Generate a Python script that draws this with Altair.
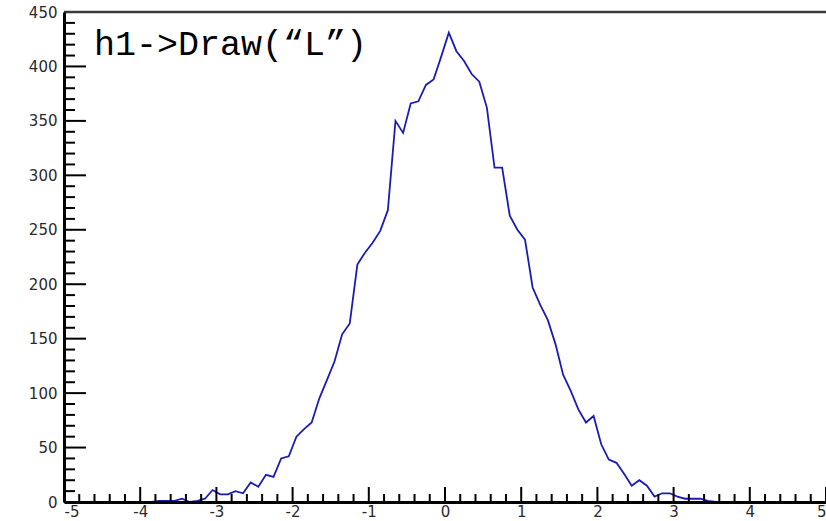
import altair as alt
import pandas as pd

# Histogram bin centres (bin width 0.1) and contents
bin_centers = [-3.85, -3.75, -3.65, -3.55, -3.45, -3.35, -3.25, -3.15, -3.05, -2.95,
               -2.85, -2.75, -2.65, -2.55, -2.45, -2.35, -2.25, -2.15, -2.05, -1.95,
               -1.85, -1.75, -1.65, -1.55, -1.45, -1.35, -1.25, -1.15, -1.05, -0.95,
               -0.85, -0.75, -0.65, -0.55, -0.45, -0.35, -0.25, -0.15, -0.05, 0.05,
               0.15, 0.25, 0.35, 0.45, 0.55, 0.65, 0.75, 0.85, 0.95, 1.05,
               1.15, 1.25, 1.35, 1.45, 1.55, 1.65, 1.75, 1.85, 1.95, 2.05,
               2.15, 2.25, 2.35, 2.45, 2.55, 2.65, 2.75, 2.85, 2.95, 3.05,
               3.15, 3.25, 3.35, 3.45, 3.55]
counts = [0, 1, 1, 1, 3, 0, 1, 3, 11, 7,
          7, 10, 8, 18, 14, 25, 23, 40, 42, 60,
          67, 73, 95, 112, 129, 154, 164, 218, 229, 238,
          249, 268, 350, 339, 366, 368, 383, 388, 409, 431,
          414, 405, 393, 386, 362, 307, 307, 263, 250, 241,
          197, 181, 167, 145, 117, 102, 85, 73, 79, 53,
          39, 36, 26, 15, 20, 15, 5, 8, 8, 5,
          3, 3, 3, 1, 0]

x_major = [-5, -4, -3, -2, -1, 0, 1, 2, 3, 4, 5]
y_major = [0, 50, 100, 150, 200, 250, 300, 350, 400, 450]
x_minor = [round(-5 + 0.2 * i, 1) for i in range(51) if i % 5 != 0]
y_minor = [10 * i for i in range(46) if i % 5 != 0]
label_text = "h1->Draw(\u201cL\u201d)"

W, H = 762, 490
xscale = alt.Scale(domain=[-5, 5], nice=False, zero=False)
yscale = alt.Scale(domain=[0, 450], nice=False, zero=False)

axis_common = dict(
    title=None, ticks=False, grid=False, domainColor="black", domainWidth=3,
    labelFont="DejaVu Sans", labelFontSize=15, labelColor="#2a2a2a",
    labelExpr="'' + datum.value", zindex=1,
)
xaxis = alt.Axis(values=x_major, labelPadding=2, **axis_common)
yaxis = alt.Axis(values=y_major, labelPadding=7, **axis_common)

hist = pd.DataFrame({"x": bin_centers, "y": counts})

line = alt.Chart(hist).mark_line(color="#1c1cb4", strokeWidth=1.8).encode(
    x=alt.X("x:Q", scale=xscale, axis=xaxis),
    y=alt.Y("y:Q", scale=yscale, axis=yaxis),
)

tick_style = dict(color="black", strokeWidth=2)
xmaj = alt.Chart(pd.DataFrame({"x": x_major})).mark_rule(**tick_style).encode(
    x=alt.X("x:Q", scale=xscale, axis=xaxis), y=alt.value(H), y2=alt.value(H - 15))
xmin = alt.Chart(pd.DataFrame({"x": x_minor})).mark_rule(**tick_style).encode(
    x=alt.X("x:Q", scale=xscale, axis=xaxis), y=alt.value(H), y2=alt.value(H - 8))
ymaj = alt.Chart(pd.DataFrame({"y": y_major})).mark_rule(**tick_style).encode(
    y=alt.Y("y:Q", scale=yscale, axis=yaxis), x=alt.value(0), x2=alt.value(22))
ymin = alt.Chart(pd.DataFrame({"y": y_minor})).mark_rule(**tick_style).encode(
    y=alt.Y("y:Q", scale=yscale, axis=yaxis), x=alt.value(0), x2=alt.value(11))
top = alt.Chart(pd.DataFrame({"y": [450]})).mark_rule(color="#3a3a3a", strokeWidth=2.5).encode(
    y=alt.Y("y:Q", scale=yscale, axis=yaxis), x=alt.value(0), x2=alt.value(W + 2))

txt = alt.Chart(pd.DataFrame({"t": [label_text]})).mark_text(
    font="Liberation Mono", fontSize=35, color="black", align="left", baseline="alphabetic"
).encode(text="t:N", x=alt.value(30), y=alt.value(43))

chart = alt.layer(line, xmaj, xmin, ymaj, ymin, top, txt).properties(
    width=W, height=H,
    autosize="none",
    padding={"left": 64, "top": 12, "right": 0, "bottom": 19},
).configure_view(stroke=None).configure(background="white")

chart.save("out.html", embed_options={"renderer": "svg", "actions": False})
